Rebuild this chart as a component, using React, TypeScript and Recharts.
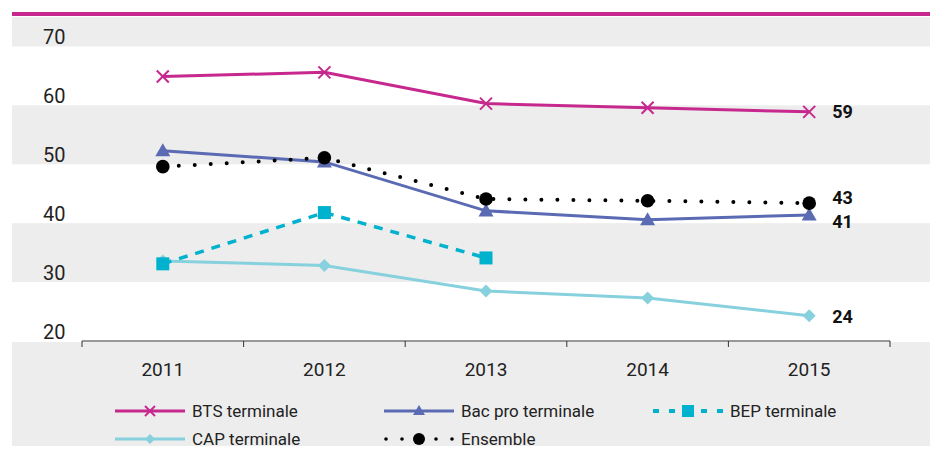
import React from 'react';
import { LineChart, Line, XAxis, YAxis, ReferenceArea, LabelList } from 'recharts';

const years = ['2011', '2012', '2013', '2014', '2015'];
const bts = [64.9, 65.6, 60.3, 59.6, 58.9];
const bacPro = [52.3, 50.4, 42.1, 40.6, 41.4];
const bep: (number | null)[] = [33.1, 41.8, 34.1, null, null];
const cap = [33.6, 32.8, 28.5, 27.3, 24.3];
const ensemble = [49.6, 51.1, 44.1, 43.8, 43.4];
const yTicks = [20, 30, 40, 50, 60, 70];
const bands: [number, number][] = [[70, 75], [50, 60], [30, 40]];

const data = years.map((y, i) => ({
  year: y,
  bts: bts[i],
  bacPro: bacPro[i],
  bep: bep[i],
  cap: cap[i],
  ensemble: ensemble[i],
}));

const W = 938;
const H = 454;
const M = { top: 17, right: 48, bottom: 83, left: 12 };
const Y_W = 70;
const PLOT_W = W - M.left - M.right - Y_W;
const HALF = PLOT_W / years.length / 2;

const C_BTS = '#C6288E';
const C_BAC = '#5A6AB3';
const C_BEP = '#00B2CD';
const C_CAP = '#86D1DD';
const C_ENS = '#000000';
const GREY = '#EDEDED';
const FONT = "Roboto, 'Liberation Sans', sans-serif";

const Cross = (p: any) => {
  if (p.cx == null || p.cy == null) return null;
  const s = 6;
  return (
    <g key={p.key}>
      <line x1={p.cx - s} y1={p.cy - s} x2={p.cx + s} y2={p.cy + s} stroke={C_BTS} strokeWidth={2} />
      <line x1={p.cx - s} y1={p.cy + s} x2={p.cx + s} y2={p.cy - s} stroke={C_BTS} strokeWidth={2} />
    </g>
  );
};
const Tri = (p: any) => {
  if (p.cx == null || p.cy == null) return null;
  const s = 7.5;
  return <path key={p.key} d={`M${p.cx},${p.cy - s}L${p.cx + s},${p.cy + s * 0.75}L${p.cx - s},${p.cy + s * 0.75}Z`} fill={C_BAC} />;
};
const Sq = (p: any) => {
  if (p.cx == null || p.cy == null || p.value == null) return null;
  const s = 6.5;
  return <rect key={p.key} x={p.cx - s} y={p.cy - s} width={s * 2} height={s * 2} fill={C_BEP} />;
};
const Dia = (p: any) => {
  if (p.cx == null || p.cy == null) return null;
  const s = 6.5;
  return <path key={p.key} d={`M${p.cx},${p.cy - s}L${p.cx + s},${p.cy}L${p.cx},${p.cy + s}L${p.cx - s},${p.cy}Z`} fill={C_CAP} />;
};
const Circ = (p: any) => {
  if (p.cx == null || p.cy == null) return null;
  return <circle key={p.key} cx={p.cx} cy={p.cy} r={6.8} fill={C_ENS} />;
};

const endLabel = (dy: number) => (p: any) => {
  if (p.index !== years.length - 1 || p.value == null) return null;
  return (
    <text x={p.x + 23} y={p.y + dy} dominantBaseline="central" fontFamily={FONT} fontWeight="bold" fontSize={18} fill="#111">
      {Math.round(p.value)}
    </text>
  );
};

const YTick = (p: any) => (
  <text x={p.x - 31} y={p.y - 2} textAnchor="start" fontFamily={FONT} fontSize={20} fill="#222">
    {p.payload.value}
  </text>
);

const XTick = (p: any) => (
  <g>
    <line x1={p.x - HALF} y1={p.y} x2={p.x - HALF} y2={p.y + 6} stroke="#333" strokeWidth={1} />
    {p.index === years.length - 1 && (
      <line x1={p.x + HALF} y1={p.y} x2={p.x + HALF} y2={p.y + 6} stroke="#333" strokeWidth={1} />
    )}
    <text x={p.x} y={p.y + 35} textAnchor="middle" fontFamily={FONT} fontSize={19} fill="#222">
      {p.payload.value}
    </text>
  </g>
);

const BandShape = (p: any) => (
  <rect x={M.left} y={p.y} width={W - M.left - 3} height={p.height} fill={GREY} />
);

const legendItems = [
  { name: 'BTS terminale', color: C_BTS, kind: 'cross' },
  { name: 'Bac pro terminale', color: C_BAC, kind: 'tri' },
  { name: 'BEP terminale', color: C_BEP, kind: 'sq' },
  { name: 'CAP terminale', color: C_CAP, kind: 'dia' },
  { name: 'Ensemble', color: C_ENS, kind: 'circ' },
];

const LegendIcon = ({ item }: { item: any }) => {
  const cx = 35;
  const cy = 8;
  let marker: React.ReactNode = null;
  if (item.kind === 'cross') marker = (
    <g>
      <line x1={cx - 5} y1={cy - 5} x2={cx + 5} y2={cy + 5} stroke={item.color} strokeWidth={2} />
      <line x1={cx - 5} y1={cy + 5} x2={cx + 5} y2={cy - 5} stroke={item.color} strokeWidth={2} />
    </g>
  );
  if (item.kind === 'tri') marker = <path d={`M${cx},${cy - 6}L${cx + 6},${cy + 4}L${cx - 6},${cy + 4}Z`} fill={item.color} />;
  if (item.kind === 'sq') marker = <rect x={cx - 6} y={cy - 6} width={12} height={12} fill={item.color} />;
  if (item.kind === 'dia') marker = <path d={`M${cx},${cy - 5}L${cx + 5},${cy}L${cx},${cy + 5}L${cx - 5},${cy}Z`} fill={item.color} />;
  if (item.kind === 'circ') marker = <circle cx={cx} cy={cy} r={6} fill={item.color} />;
  let line: React.ReactNode;
  if (item.kind === 'circ') {
    line = (
      <g fill={item.color}>
        {[2, 18, 52, 68].map((x) => <circle key={x} cx={x} cy={cy} r={1.8} />)}
      </g>
    );
  } else if (item.kind === 'sq') {
    line = (
      <g fill={item.color}>
        {[0, 16, 48, 64].map((x) => <rect key={x} x={x} y={cy - 2} width={6} height={4} />)}
      </g>
    );
  } else {
    line = <line x1={0} y1={cy} x2={70} y2={cy} stroke={item.color} strokeWidth={3} />;
  }
  return (
    <svg width={70} height={16} style={{ display: 'block' }}>
      {line}
      {marker}
    </svg>
  );
};

export default function App() {
  return (
    <div style={{ position: 'relative', width: W, height: H, margin: -8, background: '#fff', overflow: 'hidden' }}>
      <div style={{ position: 'absolute', left: 12, top: 342, width: W - 12 - 3, height: H - 342, background: GREY }} />
      <div style={{ position: 'absolute', left: 12, top: 12, width: W - 12, height: 4, background: C_BTS }} />
      <div style={{ position: 'absolute', left: 0, top: 0 }}>
        <LineChart width={W} height={H} data={data} margin={M}>
          {bands.map(([a, b]) => (
            <ReferenceArea key={a} y1={a} y2={b} shape={BandShape} ifOverflow="visible" />
          ))}
          <XAxis
            dataKey="year"
            padding={{ left: HALF, right: HALF }}
            axisLine={{ stroke: '#333', strokeWidth: 1 }}
            tickLine={false}
            tickSize={0}
            tickMargin={0}
            height={30}
            tick={XTick}
            interval={0}
          />
          <YAxis
            domain={[20, 75]}
            ticks={yTicks}
            axisLine={false}
            tickLine={false}
            width={Y_W}
            tick={YTick}
            interval={0}
          />
          <Line dataKey="cap" stroke={C_CAP} strokeWidth={3} dot={Dia} activeDot={false} isAnimationActive={false}>
            <LabelList dataKey="cap" content={endLabel(1)} />
          </Line>
          <Line dataKey="bep" stroke={C_BEP} strokeWidth={3.5} strokeDasharray="9 8" dot={Sq} activeDot={false} isAnimationActive={false} />
          <Line dataKey="bacPro" stroke={C_BAC} strokeWidth={3} dot={Tri} activeDot={false} isAnimationActive={false}>
            <LabelList dataKey="bacPro" content={endLabel(7)} />
          </Line>
          <Line dataKey="ensemble" stroke={C_ENS} strokeWidth={4} strokeDasharray="0 16" strokeLinecap="round" dot={Circ} activeDot={false} isAnimationActive={false}>
            <LabelList dataKey="ensemble" content={endLabel(-6)} />
          </Line>
          <Line dataKey="bts" stroke={C_BTS} strokeWidth={3} dot={Cross} activeDot={false} isAnimationActive={false}>
            <LabelList dataKey="bts" content={endLabel(0)} />
          </Line>
        </LineChart>
      </div>
      <div style={{ position: 'absolute', left: 115, top: 402, width: 820, display: 'grid', gridTemplateColumns: '269px 269px 269px', rowGap: 10 }}>
        {legendItems.map((it) => (
          <div key={it.name} style={{ display: 'flex', alignItems: 'center', height: 18 }}>
            <LegendIcon item={it} />
            <span style={{ marginLeft: 7, fontFamily: FONT, fontSize: 17, color: '#222', lineHeight: '18px' }}>{it.name}</span>
          </div>
        ))}
      </div>
    </div>
  );
}
